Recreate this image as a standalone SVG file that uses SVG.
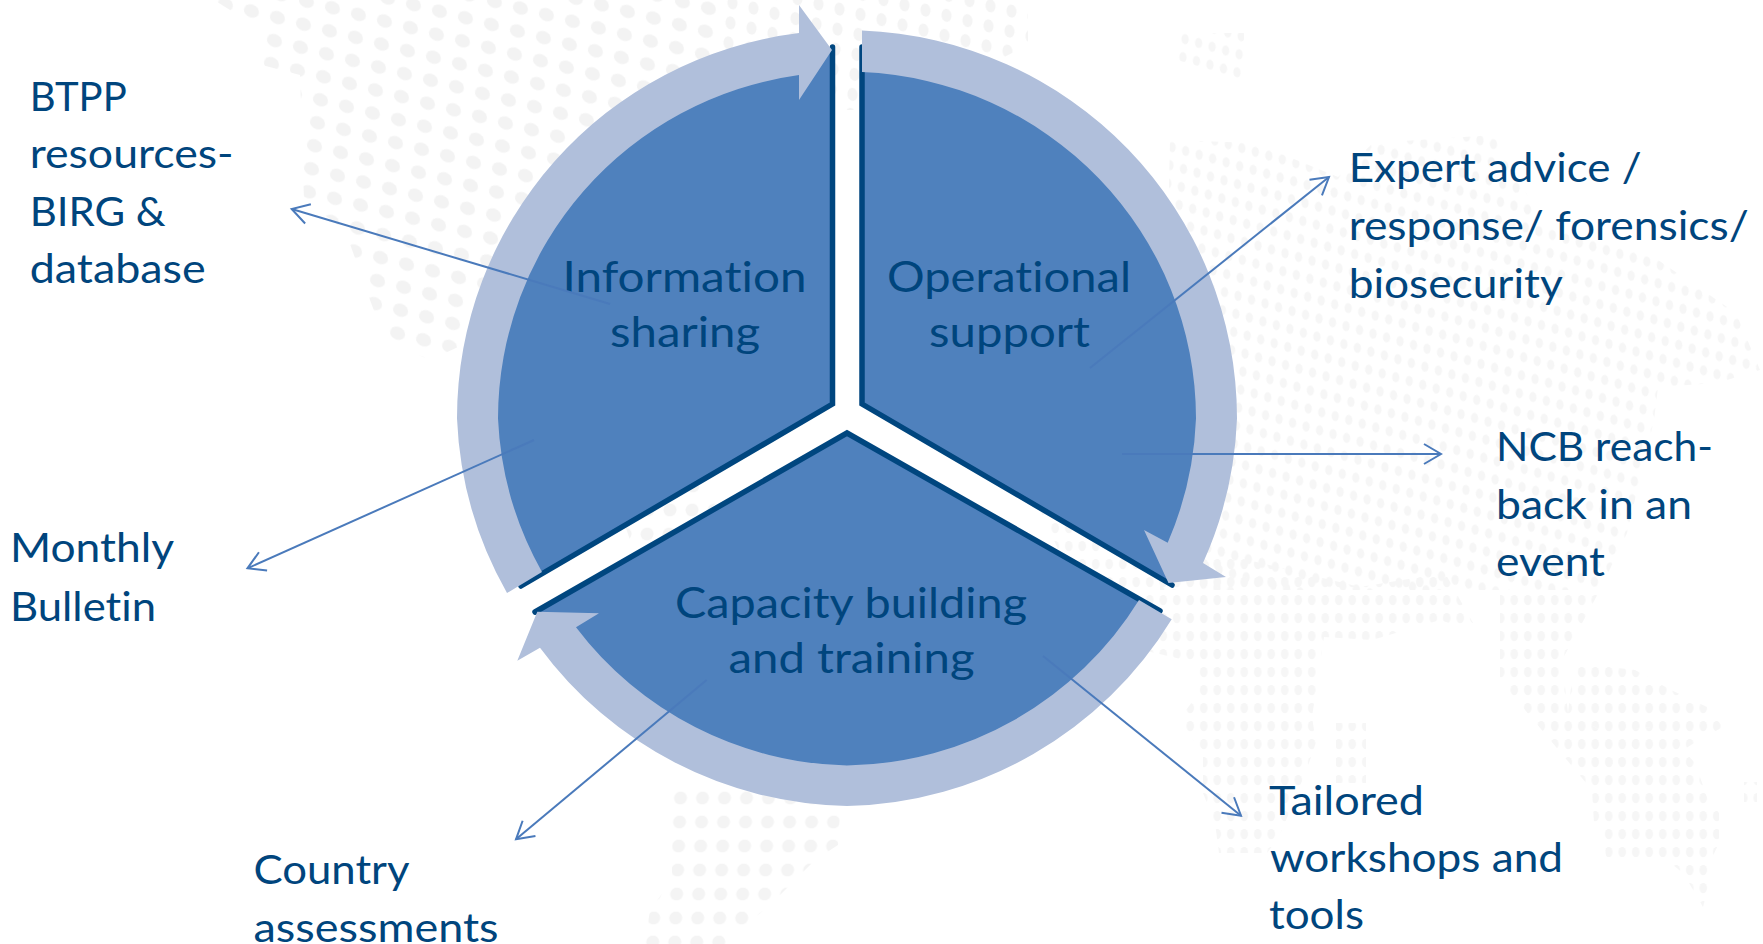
<svg xmlns="http://www.w3.org/2000/svg" width="1763" height="944" viewBox="0 0 1763 944">
<style>
.pie{fill:#4F81BD;stroke:none}
.edge{fill:none;stroke:#00467F;stroke-width:5.5;stroke-linejoin:miter;stroke-linecap:round}
.ring{fill:#B0BFDB;stroke:none}
.link{fill:none;stroke:#4A7ABB;stroke-width:2;marker-end:url(#open)}
text{font-family:"Lato","Carlito","Liberation Sans",sans-serif;fill:#00457D;font-size:40px;font-variant-ligatures:none}
.c{font-size:43px}
</style>
<defs>
<marker id="open" markerUnits="userSpaceOnUse" markerWidth="24" markerHeight="24" refX="20" refY="12" orient="auto" overflow="visible">
<path d="M3,2 L20,12 L3,22" fill="none" stroke="#4A7ABB" stroke-width="2"/>
</marker>
<pattern id="dotLarge" patternUnits="userSpaceOnUse" width="26" height="23" patternTransform="matrix(1 .254 -.13 1 309 85)">
<ellipse cx="13" cy="11.5" rx="7.5" ry="6.5" fill="#F3F3F3"/>
</pattern>
<pattern id="dotMid" patternUnits="userSpaceOnUse" width="21" height="20" patternTransform="matrix(1 .25 -.1 1 700 5)">
<ellipse cx="10.5" cy="10" rx="5" ry="6.5" fill="#F4F4F4"/>
</pattern>
<pattern id="dotSmall" patternUnits="userSpaceOnUse" width="13.5" height="18" patternTransform="matrix(1 .28 -.12 1 1180 140)">
<ellipse cx="6.75" cy="9" rx="3.6" ry="5" fill="#F6F6F6"/>
</pattern>
<pattern id="dotFlat" patternUnits="userSpaceOnUse" width="13.5" height="18" patternTransform="translate(1170 591)">
<ellipse cx="6.75" cy="9" rx="3.8" ry="5.2" fill="#F6F6F6"/>
</pattern>
<pattern id="dotBottom" patternUnits="userSpaceOnUse" width="22" height="24" patternTransform="matrix(1 0 -.04 1 670 786)">
<ellipse cx="11" cy="12" rx="6.5" ry="6.5" fill="#F4F4F4"/>
</pattern>
</defs>
<rect width="1763" height="944" fill="#FFFFFF"/>
<g id="world-map">
<polygon fill="url(#dotLarge)" points="214,0 262,30 262,65 300,75 304,200 345,230 370,300 385,340 430,360 560,300 720,100 720,0"/>
<polygon fill="url(#dotMid)" points="720,0 1028,0 1028,45 900,110 720,110"/>
<polygon fill="url(#dotSmall)" points="1177,33 1244,33 1244,80 1177,60"/>
<polygon fill="url(#dotSmall)" points="1170,140 1255,143 1338,177 1373,143 1494,135 1541,220 1658,260 1736,313 1760,370 1717,383 1658,387 1654,420 1627,533 1600,590 1160,590"/>
<polygon fill="url(#dotFlat)" points="1040,510 1360,587 1445,573 1473,623 1455,625 1440,620 1372,640 1324,637 1312,717 1316,743 1304,777 1279,837 1267,853 1219,853 1215,823 1203,793 1203,750 1186,733 1186,710 1199,693 1199,673 1185,660 1100,640"/>
<polygon fill="url(#dotFlat)" points="1500,590 1600,590 1562,660 1568,713 1606,733 1650,727 1610,773 1592,790 1500,680"/>
<polygon fill="url(#dotFlat)" points="1336,723 1366,723 1366,783 1336,783"/>
<polygon fill="url(#dotFlat)" points="1574,663 1635,670 1671,690 1707,707 1723,727 1699,740 1683,750 1695,763 1707,797 1719,813 1719,843 1711,860 1711,877 1703,907 1695,893 1683,873 1663,857 1606,857 1604,837 1594,823 1592,790 1610,773 1610,760 1650,727 1606,733 1568,713"/>
<polygon fill="url(#dotFlat)" points="1744,782 1757,782 1757,802 1744,802"/>
<polygon fill="url(#dotBottom)" points="672,785 795,785 840,815 838,845 815,860 790,885 770,905 740,930 730,944 645,944 650,910 672,880"/>
<polygon fill="url(#dotBottom)" points="625,525 690,480 720,500 640,570"/>
</g>
<g id="information-sharing">
<path class="pie" d="M832.5,47 L832.5,404 L521,586 A371,371 0 0 1 832.5,47 Z"/>
<path class="edge" d="M832.5,47 L832.5,404 L521,586"/>
<text class="c" x="562.5" y="291.5" textLength="244" lengthAdjust="spacingAndGlyphs">Information</text>
<text class="c" x="610" y="347" textLength="150" lengthAdjust="spacingAndGlyphs">sharing</text>
</g>
<g id="operational-support">
<path class="pie" d="M862,47 L862,404 L1172,585 A371,371 0 0 0 862,47 Z"/>
<path class="edge" d="M862,47 L862,404 L1172,585"/>
<text class="c" x="887" y="291.5" textLength="244" lengthAdjust="spacingAndGlyphs">Operational</text>
<text class="c" x="929" y="347" textLength="161" lengthAdjust="spacingAndGlyphs">support</text>
</g>
<g id="capacity-building">
<path class="pie" d="M535,612 L847,433 L1160,611 A371,371 0 0 1 535,612 Z"/>
<path class="edge" d="M535,612 L847,433 L1160,611"/>
<text class="c" x="675" y="617.5" textLength="352" lengthAdjust="spacingAndGlyphs">Capacity building</text>
<text class="c" x="728.5" y="673" textLength="246" lengthAdjust="spacingAndGlyphs">and training</text>
</g>
<g id="cycle-arrow-top-left">
<path class="ring" d="M507,593 A390,388 0 0 1 457,418.5 A390,388 0 0 1 799,33 L799,5 L832,50 L799,100 L799,75 A349,347 0 0 0 498,418.5 A349,347 0 0 0 542,572 Z"/>
</g>
<g id="cycle-arrow-right">
<path class="ring" d="M862,30.5 A390,388 0 0 1 1237,418.5 A390,388 0 0 1 1203,563 L1226,577 L1168.5,583 L1144,530 L1167.7,542.7 A349,347 0 0 0 1196,418.5 A349,347 0 0 0 862,72 Z"/>
</g>
<g id="cycle-arrow-bottom">
<path class="ring" d="M1171.7,619.3 A390,388 0 0 1 847,806 A390,388 0 0 1 540,647.7 L517.3,660.7 L537.3,611.7 L599,613.3 L576,627.3 A349,347 0 0 0 847,765.5 A349,347 0 0 0 1139,600 Z"/>
</g>
<g id="connectors">
<line class="link" x1="610" y1="304" x2="291.7" y2="209"/>
<line class="link" x1="534" y1="440" x2="247.5" y2="568.3"/>
<line class="link" x1="1090" y1="368" x2="1329" y2="177"/>
<line class="link" x1="1122" y1="454" x2="1441" y2="454"/>
<line class="link" x1="1043" y1="656" x2="1241" y2="815.7"/>
<line class="link" x1="706.6" y1="680" x2="516" y2="839.3"/>
</g>
<g id="label-btpp">
<text x="29.7" y="110.7" textLength="97" lengthAdjust="spacingAndGlyphs">BTPP</text>
<text x="29.7" y="168" textLength="204" lengthAdjust="spacingAndGlyphs">resources-</text>
<text x="29.7" y="225.7" textLength="136" lengthAdjust="spacingAndGlyphs">BIRG &amp;</text>
<text x="29.7" y="282.7" textLength="176" lengthAdjust="spacingAndGlyphs">database</text>
</g>
<g id="label-monthly">
<text x="10" y="562.3" textLength="164" lengthAdjust="spacingAndGlyphs">Monthly</text>
<text x="10" y="620.7" textLength="146" lengthAdjust="spacingAndGlyphs">Bulletin</text>
</g>
<g id="label-country">
<text x="253.5" y="884" textLength="156" lengthAdjust="spacingAndGlyphs">Country</text>
<text x="253.5" y="941.7" textLength="245" lengthAdjust="spacingAndGlyphs">assessments</text>
</g>
<g id="label-expert">
<text x="1348.7" y="182.3" textLength="293" lengthAdjust="spacingAndGlyphs">Expert advice /</text>
<text x="1348.7" y="240" textLength="400" lengthAdjust="spacingAndGlyphs">response/ forensics/</text>
<text x="1348.7" y="298" textLength="214" lengthAdjust="spacingAndGlyphs">biosecurity</text>
</g>
<g id="label-ncb">
<text x="1496" y="461" textLength="217" lengthAdjust="spacingAndGlyphs">NCB reach-</text>
<text x="1496" y="519" textLength="196" lengthAdjust="spacingAndGlyphs">back in an</text>
<text x="1496" y="576" textLength="109" lengthAdjust="spacingAndGlyphs">event</text>
</g>
<g id="label-tailored">
<text x="1269" y="815" textLength="155" lengthAdjust="spacingAndGlyphs">Tailored</text>
<text x="1270" y="871.7" textLength="293" lengthAdjust="spacingAndGlyphs">workshops and</text>
<text x="1269" y="929" textLength="95" lengthAdjust="spacingAndGlyphs">tools</text>
</g>
</svg>
